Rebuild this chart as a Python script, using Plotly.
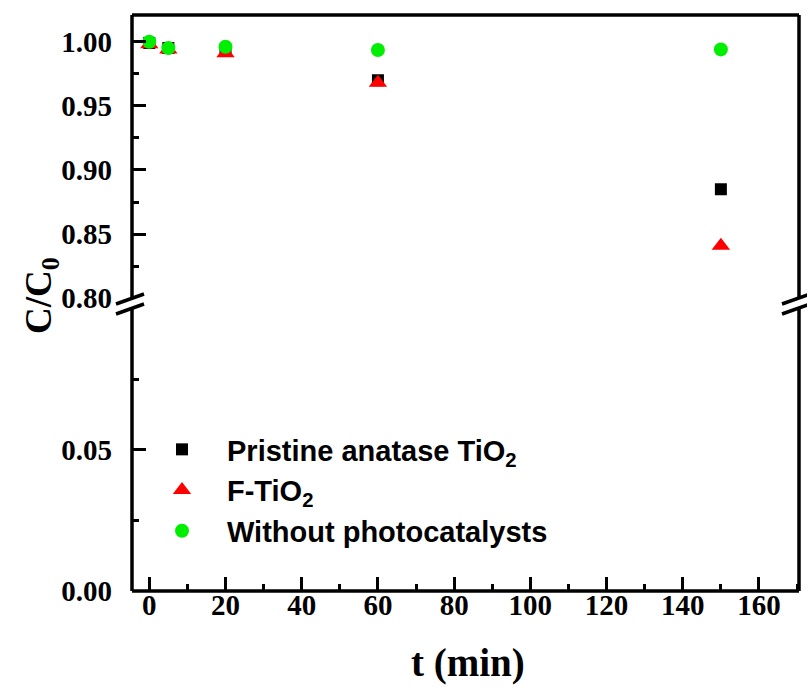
import plotly.graph_objects as go

# ---- data ----
t_min = [0, 5, 20, 60, 150]
pristine = [0.999, 0.995, 0.993, 0.970, 0.885]
f_tio2 = [0.998, 0.994, 0.991, 0.968, 0.841]
without = [1.000, 0.995, 0.996, 0.9935, 0.994]

x_ticks = [0, 20, 40, 60, 80, 100, 120, 140, 160]
upper_ticks = [0.80, 0.85, 0.90, 0.95, 1.00]
lower_ticks = [0.00, 0.05]
lower_minor = [0.025, 0.075]

W, H = 807, 689
L, R, T, B = 132, 8, 15, 98
pw, ph = W - L - R, H - T - B

def px(xp):
    return (xp - L) / pw

def py(yp):
    return (H - B - yp) / ph

serif = "Liberation Serif"
sans = "Liberation Sans"

fig = go.Figure()
# invisible trace so the lower y axis (and the x axis anchored to it) is drawn
fig.add_trace(go.Scatter(x=[None], y=[None], xaxis="x", yaxis="y",
                         showlegend=False, hoverinfo="skip", mode="markers"))
fig.add_trace(go.Scatter(x=t_min, y=pristine, mode="markers", yaxis="y2",
                         name="Pristine anatase TiO<sub>2</sub>",
                         marker=dict(symbol="square", size=12, color="black")))
fig.add_trace(go.Scatter(x=t_min, y=f_tio2, mode="markers", yaxis="y2",
                         name="F-TiO<sub>2</sub>",
                         marker=dict(symbol="triangle-up", size=16, color="red")))
fig.add_trace(go.Scatter(x=t_min, y=without, mode="markers", yaxis="y2",
                         name="Without photocatalysts",
                         marker=dict(symbol="circle", size=14, color="#00ee00")))

tickfont = dict(family=serif, size=29, color="black", weight="bold")

fig.update_layout(
    width=W, height=H,
    margin=dict(l=L, r=R, t=T, b=B),
    paper_bgcolor="white", plot_bgcolor="white",
    showlegend=True,
    legend=dict(x=px(137), y=py(424), xanchor="left", yanchor="top",
                bgcolor="rgba(0,0,0,0)",
                font=dict(family=sans, size=29, color="black", weight="bold"),
                itemsizing="trace", tracegroupgap=0, itemwidth=80),
    xaxis=dict(range=[-4.54, 170.5], tickvals=x_ticks, ticks="inside",
               ticklen=14, tickwidth=3, tickcolor="black",
               minor=dict(dtick=10, tick0=0, ticks="inside", ticklen=7,
                          tickwidth=3, tickcolor="black"),
               showgrid=False, zeroline=False, showline=False,
               tickfont=tickfont, anchor="y", ticklabelstandoff=-6),
    yaxis=dict(domain=[0, py(308.6)], range=[0, 0.1], tickvals=lower_ticks,
               ticktext=["0.00", "0.05"],
               ticks="inside", ticklen=14, tickwidth=3, tickcolor="black",
               minor=dict(tickvals=lower_minor, ticks="inside", ticklen=7,
                          tickwidth=3, tickcolor="black"),
               showgrid=False, zeroline=False, showline=False,
               tickfont=tickfont, anchor="x", ticklabelstandoff=19),
    yaxis2=dict(domain=[py(298.3), 1], range=[0.80, 1.0208],
                tickvals=upper_ticks,
                ticktext=["0.80", "0.85", "0.90", "0.95", "1.00"],
                ticks="inside", ticklen=14, tickwidth=3, tickcolor="black",
                minor=dict(dtick=0.025, tick0=0.8, ticks="inside", ticklen=7,
                           tickwidth=3, tickcolor="black"),
                showgrid=False, zeroline=False, showline=False,
                tickfont=tickfont, anchor="x", ticklabelstandoff=19),
)

shapes = []
lw = 3.5
# frame
for (x0, y0, x1, y1) in [(0, 0, 1, 0), (0, 1, 1, 1), (0, 0, 0, 1), (1, 0, 1, 1)]:
    shapes.append(dict(type="line", xref="paper", yref="paper", x0=x0, y0=y0,
                       x1=x1, y1=y1, line=dict(color="black", width=lw)))
# break marks
for ax in (132, 798):
    shapes.append(dict(type="path", xref="paper", yref="paper",
                       path=f"M {px(ax-16)} {py(304)} L {px(ax+12)} {py(294)} "
                            f"L {px(ax+12)} {py(304)} L {px(ax-16)} {py(314)} Z",
                       fillcolor="white", line=dict(width=0)))
    for off in (0, 10):
        shapes.append(dict(type="line", xref="paper", yref="paper",
                           x0=px(ax-16), y0=py(304+off), x1=px(ax+12), y1=py(294+off),
                           line=dict(color="black", width=3.5)))
fig.update_layout(shapes=shapes)

fig.add_annotation(xref="paper", yref="paper", x=px(41), y=py(296),
                   xanchor="center", yanchor="middle",
                   text="C/C<sub>0</sub>", showarrow=False, textangle=-90,
                   font=dict(family=serif, size=37, color="black", weight="bold"))
fig.add_annotation(xref="paper", yref="paper", x=px(468), y=py(663),
                   xanchor="center", yanchor="middle",
                   text="t (min)", showarrow=False,
                   font=dict(family=serif, size=39, color="black", weight="bold"))

fig.write_html("out.html")
